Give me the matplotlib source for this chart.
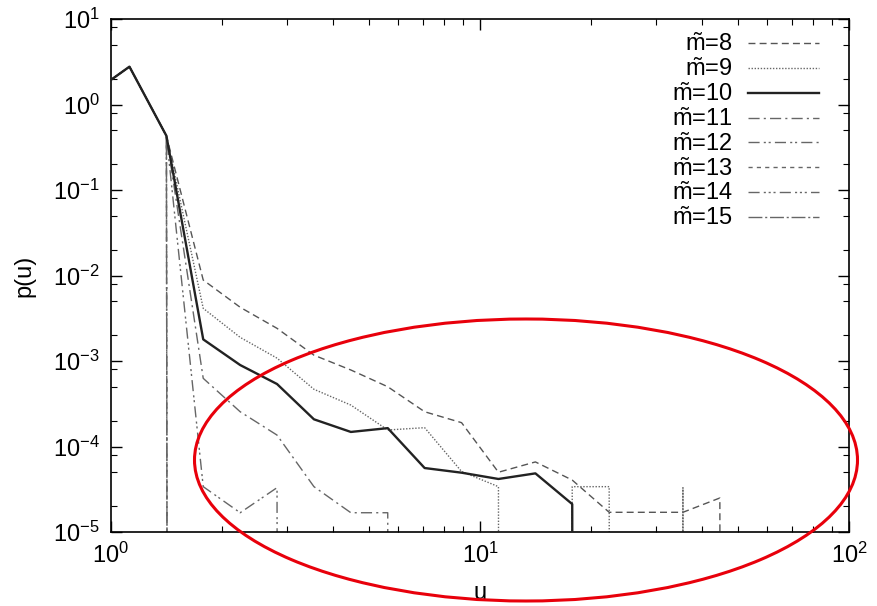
import numpy as np
import matplotlib.pyplot as plt
from matplotlib.patches import Ellipse
from matplotlib.ticker import LogLocator, NullFormatter

plt.rcParams['font.family'] = ['Liberation Sans', 'DejaVu Sans']
plt.rcParams['axes.unicode_minus'] = False
plt.rcParams['mathtext.fontset'] = 'custom'
plt.rcParams['mathtext.rm'] = 'Liberation Sans'
plt.rcParams['mathtext.it'] = 'Liberation Sans'
plt.rcParams['mathtext.default'] = 'rm'

# centres of the logarithmic bins
u = [0.891, 1.122, 1.413, 1.778, 2.239, 2.818, 3.548, 4.467, 5.623,
     7.079, 8.913, 11.22, 14.13, 17.78, 22.39, 28.18, 35.48, 44.67, 56.23]

# first three bins are common to every m
head = [1.36, 2.77, 0.43]

p8 = head + [8.85e-3, 4.25e-3, 2.41e-3, 1.17e-3, 7.85e-4, 5.0e-4, 2.55e-4, 1.9e-4,
             5.0e-5, 6.6e-5, 4.05e-5, 1.7e-5, 1.7e-5, 1.7e-5, 2.5e-5, 0]
p9 = head + [4.13e-3, 1.89e-3, 1.08e-3, 4.67e-4, 3.05e-4, 1.56e-4, 1.66e-4, 5.1e-5,
             3.39e-5, 0, 3.39e-5, 3.39e-5, 0, 3.3e-5, 0, 0]
p10 = head + [1.79e-3, 8.97e-4, 5.38e-4, 2.08e-4, 1.48e-4, 1.64e-4, 5.6e-5, 4.94e-5,
              4.17e-5, 4.85e-5, 2.12e-5, 0, 0, 0, 0, 0]
p11 = head + [6.27e-4, 2.55e-4, 1.36e-4, 3.39e-5, 1.68e-5, 1.68e-5,
              0, 0, 0, 0, 0, 0, 0, 0, 0, 0]
p12 = head + [3.39e-5, 1.68e-5, 3.3e-5, 0, 0, 0, 0, 0, 0, 0, 0, 0, 0, 0, 0, 0]
p13 = head + [0] * 16
p14 = head + [0] * 16
p15 = head + [0] * 16

m_values = [8, 9, 10, 11, 12, 13, 14, 15]
series = [p8, p9, p10, p11, p12, p13, p14, p15]

styles = {
    8: dict(color='#555555', lw=1.0, ls=(0, (5, 3))),
    9: dict(color='#666666', lw=1.0, ls=(0, (1, 1.2))),
    10: dict(color='#222222', lw=1.7, ls='-'),
    11: dict(color='#666666', lw=1.0, ls=(0, (8, 3, 1.5, 3))),
    12: dict(color='#666666', lw=1.0, ls=(0, (8, 3, 1.5, 2, 1.5, 3))),
    13: dict(color='#666666', lw=1.0, ls=(0, (3, 3))),
    14: dict(color='#666666', lw=1.0, ls=(0, (8, 3, 1.5, 2, 1.5, 2, 1.5, 3))),
    15: dict(color='#666666', lw=1.0, ls=(0, (10, 2, 1.5, 2))),
}

fig = plt.figure(figsize=(8.77, 6.06), dpi=100)
ax = fig.add_axes([111 / 877, 1 - 532 / 606, 738 / 877, 513 / 606])

for m, p in zip(m_values, series):
    p = np.array(p, dtype=float)
    # empty bins fall straight down to the bottom of the log axis
    y = np.where(p > 0, p, 1e-300)
    st = styles[m]
    ax.plot(u, y, color=st['color'], lw=st['lw'], linestyle=st['ls'],
            label=r'$\tilde{m}$=%d' % m, zorder=3 if m == 10 else 2)

ax.set_xscale('log')
ax.set_yscale('log')
ax.set_xlim(1, 100)
ax.set_ylim(1e-5, 10)

ax.yaxis.set_major_locator(LogLocator(base=10, numticks=20))
ax.yaxis.set_minor_locator(LogLocator(base=10, subs=(2, 5, 8), numticks=20))
ax.xaxis.set_minor_locator(LogLocator(base=10, subs=np.arange(2, 10), numticks=20))
ax.yaxis.set_minor_formatter(NullFormatter())
ax.xaxis.set_minor_formatter(NullFormatter())

ax.tick_params(which='both', direction='in', top=True, right=True, colors='black')
ax.tick_params(which='major', length=8, width=1.0, labelsize=17, pad=8)
ax.tick_params(which='minor', length=4, width=0.8)
for s in ax.spines.values():
    s.set_linewidth(1.2)

ax.set_ylabel('p(u)', fontsize=17)
ax.set_xlabel('u', fontsize=17)
ax.yaxis.set_label_coords(-0.103, 0.5)
ax.xaxis.set_label_coords(0.5, -0.097)

ax.legend(loc='upper right', bbox_to_anchor=(0.959, 0.972), frameon=False,
          fontsize=17, markerfirst=False, handlelength=3.0, handletextpad=0.65,
          labelspacing=0.08, borderpad=0, borderaxespad=0)

# highlight of the tail region
ring = Ellipse((526 / 877, 1 - 460 / 606), 663 / 877, 282 / 606,
               transform=fig.transFigure, fill=False, edgecolor='#e8000b',
               lw=2.2, zorder=10)
fig.patches.append(ring)

fig.savefig('out.png', dpi=100)
